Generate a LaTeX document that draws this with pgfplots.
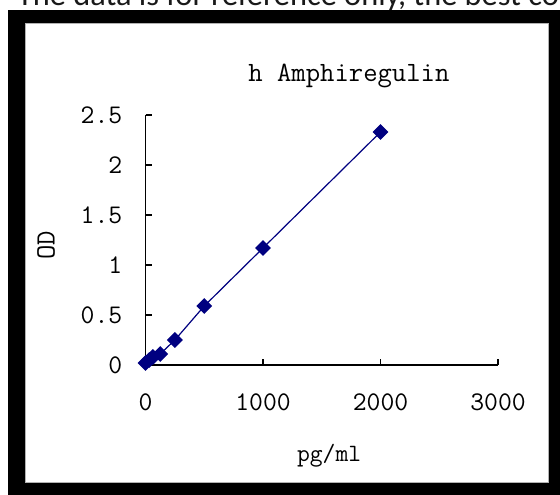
\documentclass[border=0pt]{standalone}
\usepackage{fontspec}
\newfontfamily\topfont{Carlito}
\usepackage{pgfplots}
\pgfplotsset{compat=1.18}
\definecolor{navy}{RGB}{0,0,128}

\begin{document}
\begin{tikzpicture}
\useasboundingbox (0bp,0bp) rectangle (560bp,495bp);
\clip (0bp,0bp) rectangle (560bp,495bp);
\fill[white] (0bp,0bp) rectangle (560bp,495bp);
% caption strip cut off at the top
\node[anchor=base west, inner sep=0pt, text=black!90,
      font=\topfont\fontsize{32.5}{32.5}\selectfont] at (17bp,489bp)
  {The data is for reference only, the best concentration should be determined};
% black frame
\fill[black] (8bp,0bp) rectangle (560bp,485bp);
\fill[white] (25bp,13bp) rectangle (548bp,472bp);
\draw[gray!60, line width=0.8bp] (25bp,13bp) rectangle (548bp,472bp);

\begin{axis}[
  at={(145.5bp,130bp)}, anchor=south west,
  scale only axis, width=352.5bp, height=250bp,
  xmin=0, xmax=3000, ymin=0, ymax=2.5,
  xtick={0,1000,2000,3000}, ytick={0,0.5,1,1.5,2,2.5},
  scaled ticks=false,
  /pgf/number format/1000 sep={},
  /pgf/number format/assume math mode=true,
  axis lines=left, axis line style={-, black, line width=1.5bp},
  tick align=inside, major tick length=6bp,
  tick style={black, line width=1.5bp},
  every tick label/.append style={font=\ttfamily\fontsize{27}{27}\selectfont, inner sep=0pt},
  xticklabel style={anchor=north, yshift=-29bp},
  yticklabel style={anchor=east, xshift=-23bp},
  clip=false,
  title={h Amphiregulin},
  title style={at={(axis description cs:0.577,1.112)}, anchor=base,
               font=\ttfamily\fontsize{28}{28}\selectfont, inner sep=0pt},
  xlabel={pg/ml},
  every axis x label/.style={at={(axis description cs:0.521,-0.384)}, anchor=base,
               font=\ttfamily\fontsize{25}{25}\selectfont, inner sep=0pt},
  ylabel={OD},
  every axis y label/.style={at={(axis description cs:-0.282,0.48)}, anchor=center,
               rotate=90, font=\ttfamily\fontsize{28}{28}\selectfont, inner sep=0pt},
]
\addplot[color=navy, line width=1.2bp, mark=square*, mark size=5bp,
         mark options={rotate=45, solid, fill=navy, draw=navy}]
  coordinates {(0,0.02)(31.25,0.05)(62.5,0.08)(125,0.11)(250,0.25)(500,0.59)(1000,1.17)(2000,2.33)};
\end{axis}
\end{tikzpicture}
\end{document}
